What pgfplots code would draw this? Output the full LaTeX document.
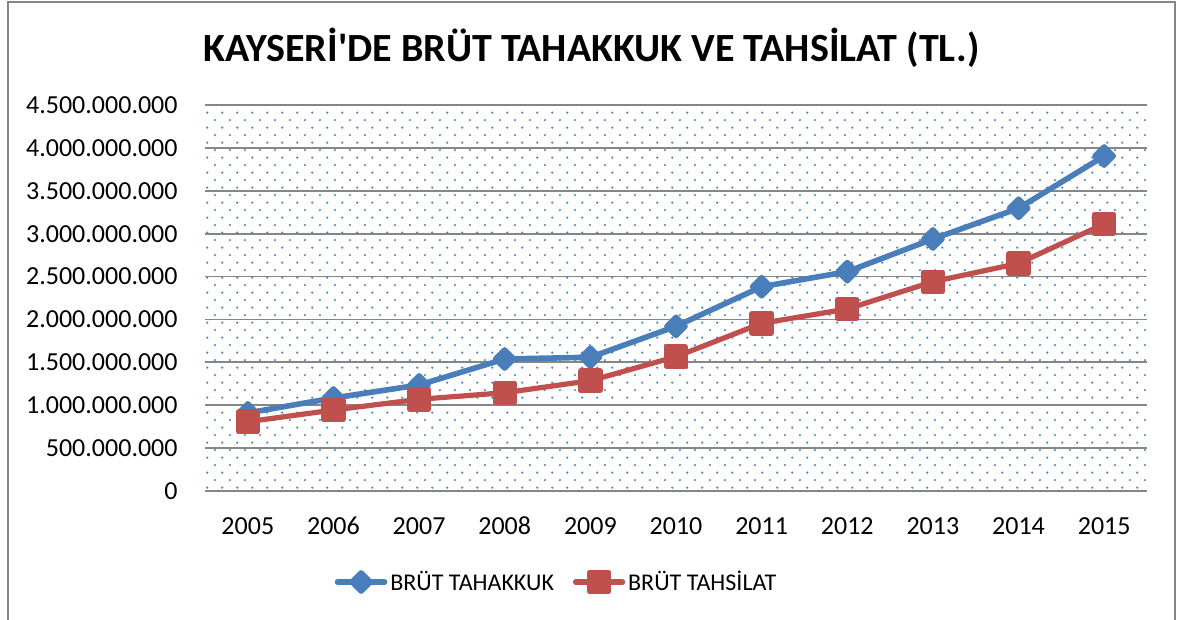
\documentclass[border=0pt]{standalone}
\usepackage{pgfplots}
\pgfplotsset{compat=1.18}
\usepackage{fontspec}
\setmainfont{Carlito}
\usetikzlibrary{patterns.meta}
\definecolor{tblue}{RGB}{74,126,187}
\definecolor{tred}{RGB}{192,80,77}
\definecolor{gridgray}{RGB}{134,134,134}
\definecolor{dotblue}{RGB}{85,132,192}
\tikzdeclarepattern{
  name=exceldots,
  type=uncolored,
  bounding box={(0pt,0pt) and (7.65pt,7.7pt)},
  tile size={(7.65pt,7.7pt)},
  code={
    \fill (1pt,1pt) circle (0.62pt);
    \fill (4.825pt,4.85pt) circle (0.62pt);
  }
}
\begin{document}
\begin{tikzpicture}
\useasboundingbox (0,0) rectangle (588.5pt,-310pt);
\draw[gridgray, line width=1pt] (4pt,-320pt) -- (4pt,-1pt) -- (587.5pt,-1pt) -- (587.5pt,-320pt);
\begin{axis}[
  at={(102.5pt,-245.5pt)}, anchor=south west,
  scale only axis, width=471pt, height=193pt,
  xmin=2004.5, xmax=2015.5, ymin=0, ymax=4500000000,
  xtick={2005,2006,2007,2008,2009,2010,2011,2012,2013,2014,2015},
  xticklabels={2005,2006,2007,2008,2009,2010,2011,2012,2013,2014,2015},
  ytick={0,500000000,1000000000,1500000000,2000000000,2500000000,3000000000,3500000000,4000000000,4500000000},
  yticklabels={0,500.000.000,1.000.000.000,1.500.000.000,2.000.000.000,2.500.000.000,3.000.000.000,3.500.000.000,4.000.000.000,4.500.000.000},
  scaled y ticks=false,
  ymajorgrids, grid style={gridgray, line width=0.85pt},
  axis line style={draw=none},
  tick style={draw=none},
  major tick length=0pt,
  ticklabel style={font=\fontsize{13}{15}\selectfont, inner sep=0pt},
  yticklabel style={anchor=east, xshift=-13.5pt},
  xticklabel style={anchor=center, yshift=-17.5pt},
  axis background/.style={pattern={exceldots}, pattern color=dotblue},
  legend style={at={(0.3737,-0.2358)}, anchor=center, draw=none, fill=none,
    font=\fontsize{12}{14}\selectfont, nodes={inner xsep=1.5pt},
    /tikz/every even column/.append style={column sep=8pt}},
  legend columns=2,
  legend image code/.code={\draw[mark repeat=2,mark phase=2,#1] plot coordinates {(0pt,0pt)(11.75pt,0pt)(23.5pt,0pt)};},
]
\addplot[tblue, line width=2.8pt, line cap=round, line join=round, mark=square*, mark size=3.2pt, mark options={rotate=45, solid, fill=tblue, draw=none}] coordinates {
(2005,910000000) (2006,1084000000) (2007,1236000000) (2008,1539000000) (2009,1559000000) (2010,1920000000) (2011,2382000000) (2012,2557000000) (2013,2938000000) (2014,3296000000) (2015,3905000000)};
\addlegendentry{BRÜT TAHAKKUK}
\addplot[tred, line width=2.6pt, line cap=round, line join=round, mark=square*, mark size=4.8pt, mark options={solid, fill=tred, draw=none}] coordinates {
(2005,808000000) (2006,944000000) (2007,1069000000) (2008,1146000000) (2009,1286000000) (2010,1566000000) (2011,1955000000) (2012,2122000000) (2013,2440000000) (2014,2654000000) (2015,3113000000)};
\addlegendentry{BRÜT TAHSİLAT}
\end{axis}
\node[font=\bfseries\fontsize{20}{24}\selectfont] at (295.75pt,-24pt) {KAYSERİ\textquotesingle DE BRÜT TAHAKKUK VE TAHSİLAT (TL.)};
\end{tikzpicture}
\end{document}
